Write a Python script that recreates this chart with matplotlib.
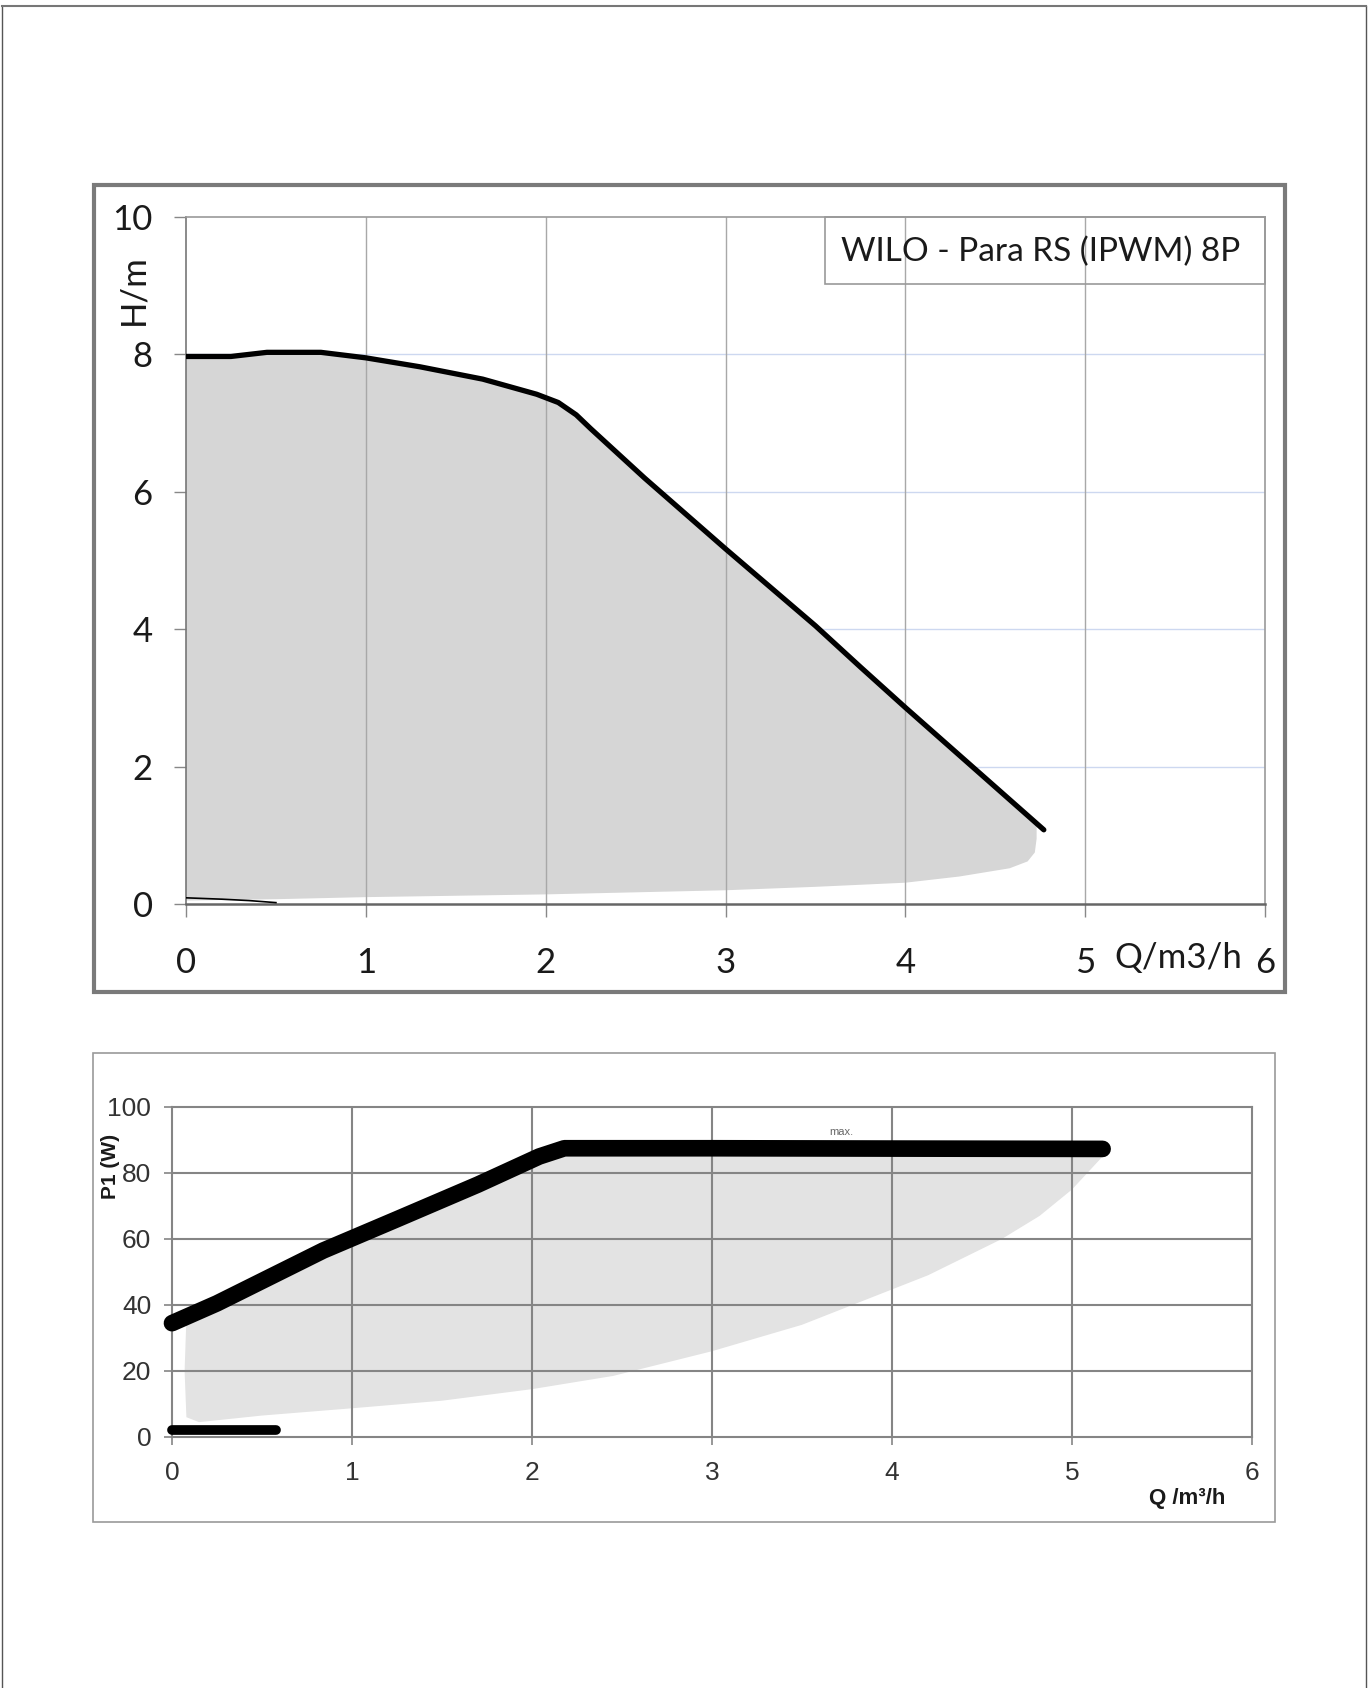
import matplotlib
matplotlib.use('Agg')
import matplotlib.pyplot as plt
from matplotlib.patches import Rectangle
from matplotlib.lines import Line2D
import matplotlib.transforms as mtransforms
from matplotlib import font_manager

# head curve (top chart)
q_head = [0, 0.25, 0.45, 0.75, 1.0, 1.3, 1.65, 1.95, 2.07, 2.17, 2.25, 2.55, 3.0, 3.5, 3.75, 4.0, 4.77]
head = [7.97, 7.97, 8.03, 8.03, 7.95, 7.82, 7.64, 7.42, 7.3, 7.12, 6.92, 6.2, 5.17, 4.05, 3.45, 2.86, 1.08]
# lower edge of the grey operating area, right to left
q_head_low = [4.73, 4.73, 4.72, 4.68, 4.58, 4.3, 4.0, 3.5, 3.0, 2.0, 1.0, 0.5, 0.0]
head_low = [1.15, 0.95, 0.75, 0.62, 0.52, 0.4, 0.31, 0.25, 0.2, 0.14, 0.1, 0.07, 0.05]
q_head_min = [0, 0.2, 0.35, 0.5]
head_min = [0.09, 0.07, 0.05, 0.02]

# power curve (bottom chart)
q_power = [0, 0.25, 0.84, 1.25, 1.7, 2.04, 2.18, 3.0, 4.0, 5.17]
power = [34.5, 40.5, 56.5, 66, 76.5, 85, 87.5, 87.5, 87.4, 87.3]
q_power_low = [5.17, 5.0, 4.82, 4.61, 4.2, 3.78, 3.5, 3.0, 2.45, 2.0, 1.5, 1.0, 0.5, 0.15, 0.08, 0.07, 0.08]
power_low = [85, 75, 67, 60, 49, 40, 34, 26, 18.5, 14.5, 11, 8.7, 6.5, 4.5, 6, 20, 36]
q_power_min = [0, 0.58]
power_min = [2, 2]

title = 'WILO - Para RS (IPWM) 8P'

names = {f.name for f in font_manager.fontManager.ttflist}
font_bot = 'Liberation Sans Narrow' if 'Liberation Sans Narrow' in names else 'Liberation Sans'
font_top = 'Lato'

fig = plt.figure(figsize=(13.68, 16.88), dpi=100)
W, H = 1368, 1688


def px_rect(x0, y0, x1, y1, **kw):
    # rectangle given in pixel coords (top-left origin)
    r = Rectangle((x0 / W, 1 - y1 / H), (x1 - x0) / W, (y1 - y0) / H,
                  transform=fig.transFigure, fill=False, **kw)
    fig.patches.append(r)


# page border
fig.lines.append(Line2D([2 / W, 2 / W], [0, 1 - 6 / H], transform=fig.transFigure, color='#555', lw=1))
fig.lines.append(Line2D([1366 / W, 1366 / W], [0, 1 - 6 / H], transform=fig.transFigure, color='#555', lw=1))
fig.lines.append(Line2D([2 / W, 1366 / W], [1 - 6 / H, 1 - 6 / H], transform=fig.transFigure, color='#777', lw=1.5))

# chart frames
px_rect(94, 185, 1285, 992, edgecolor='#7a7a7a', lw=3)
px_rect(93, 1053, 1275, 1522, edgecolor='#9a9a9a', lw=1.2)

# ---------- top chart ----------
ax = fig.add_axes([186 / W, 1 - 904 / H, (1265 - 186) / W, (904 - 217) / H])
ax.set_xlim(0, 6)
ax.set_ylim(0, 10)
ax.fill(q_head + q_head_low, head + head_low, color='#d6d6d6', lw=0, zorder=1)
ax.plot(q_head, head, color='black', lw=3.8, solid_capstyle='round', solid_joinstyle='round', zorder=3)
ax.plot(q_head_min, head_min, color='black', lw=1.2, zorder=3)

for x in range(1, 6):
    ax.axvline(x, color='#a8a8a8', lw=1, zorder=2)
for y in range(2, 10, 2):
    ax.axhline(y, color='#cdd8f0', lw=1, zorder=0.5)
for s in ax.spines.values():
    s.set_color('#9a9a9a')
    s.set_linewidth(1.2)
ax.spines['left'].set_color('#777')
ax.spines['bottom'].set_color('#666')
ax.spines['bottom'].set_linewidth(1.8)

ax.set_xticks(range(0, 7))
ax.set_yticks(range(0, 11, 2))
ax.tick_params(direction='out', length=9, width=1, color='#888', labelsize=25,
               labelcolor='#1a1a1a')
ax.tick_params(axis='x', pad=22)
ax.tick_params(axis='y', pad=15)
for lab in ax.get_xticklabels() + ax.get_yticklabels():
    lab.set_family(font_top)

trans = mtransforms.blended_transform_factory(ax.transData, ax.transAxes)
ax.text(5.52, -0.079, 'Q/m3/h', transform=trans, ha='center', va='center',
        fontsize=25, family=font_top, color='#1a1a1a')
trans_y = mtransforms.blended_transform_factory(ax.transAxes, ax.transData)
ax.text(-0.049, 8.95, 'H/m', transform=trans_y, rotation=90, ha='center', va='center',
        fontsize=25, family=font_top, color='#1a1a1a')

ax.add_patch(Rectangle((3.556, 9.03), 6 - 3.556, 0.97, fill=False, edgecolor='#999',
                       lw=1.2, zorder=4, clip_on=False))
ax.text(4.75, 9.49, title, ha='center', va='center', fontsize=24, family=font_top,
        color='#1a1a1a', zorder=5)

# ---------- bottom chart ----------
ax2 = fig.add_axes([172 / W, 1 - 1437 / H, (1252 - 172) / W, (1437 - 1107) / H])
ax2.set_xlim(0, 6)
ax2.set_ylim(0, 100)
ax2.fill(q_power + q_power_low, power + power_low, color='#e3e3e3', lw=0, zorder=1)
ax2.plot(q_power, power, color='black', lw=12, solid_capstyle='round', solid_joinstyle='round',
         zorder=3, clip_on=False)
ax2.plot(q_power_min, power_min, color='black', lw=7, solid_capstyle='round', zorder=3,
         clip_on=False)

for x in range(1, 6):
    ax2.axvline(x, color='#858585', lw=1.5, zorder=2)
for y in range(20, 100, 20):
    ax2.axhline(y, color='#858585', lw=1.5, zorder=2)
for s in ax2.spines.values():
    s.set_color('#858585')
    s.set_linewidth(1.5)

ax2.set_xticks(range(0, 7))
ax2.set_yticks(range(0, 101, 20))
ax2.tick_params(direction='out', length=6, width=1.2, color='#858585', labelsize=19,
                labelcolor='#333')
ax2.tick_params(axis='x', pad=11)
ax2.tick_params(axis='y', pad=9)
for lab in ax2.get_xticklabels() + ax2.get_yticklabels():
    lab.set_family(font_bot)

trans2 = mtransforms.blended_transform_factory(ax2.transData, ax2.transAxes)
ax2.text(5.64, -0.185, 'Q /m³/h', transform=trans2, ha='center', va='center',
         fontsize=16, fontweight='bold', family='Liberation Sans', color='#1a1a1a')
trans2_y = mtransforms.blended_transform_factory(ax2.transAxes, ax2.transData)
ax2.text(-0.057, 82, 'P1 (W)', transform=trans2_y, rotation=90, ha='center', va='center',
         fontsize=15, fontweight='bold', family='Liberation Sans', color='#1a1a1a')
ax2.text(3.72, 92.4, 'max.', ha='center', va='center', fontsize=8,
         family='Liberation Sans', color='#666')

fig.savefig('out.png', dpi=100, facecolor='white')
